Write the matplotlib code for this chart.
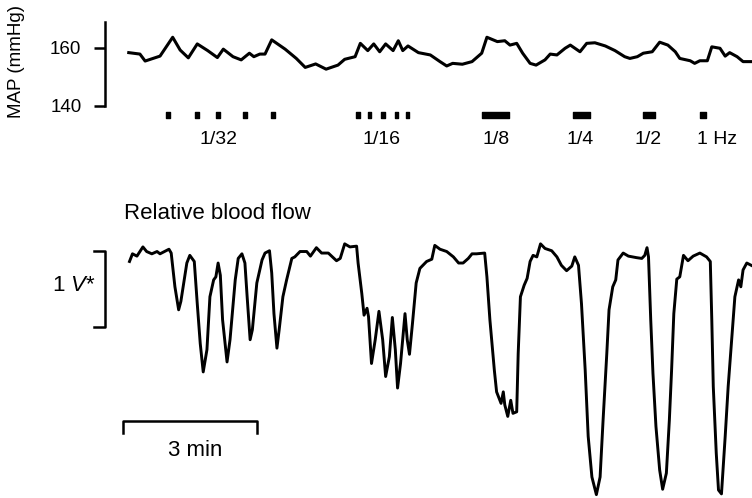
import matplotlib
matplotlib.use("Agg")
import matplotlib.pyplot as plt

plt.rcParams["font.family"] = ["Liberation Sans", "DejaVu Sans"]
plt.rcParams["mathtext.fontset"] = "custom"
plt.rcParams["mathtext.rm"] = "Liberation Sans"
plt.rcParams["mathtext.it"] = "Liberation Sans:italic"

# Mean arterial pressure, time in s
map_t = [1, 16, 23, 43, 60, 70, 81, 93, 107, 120, 128, 141, 152, 163, 169, 177, 184, 193, 211, 226,
         238, 252, 266, 282, 291, 305, 312, 322, 330, 338, 346, 356, 363, 369, 376, 390, 406, 419, 428, 436,
         449, 462, 475, 482, 496, 506, 513, 522, 530, 540, 548, 560, 567, 576, 587, 594, 607, 616, 627, 641,
         654, 667, 674, 684, 692, 704, 714, 725, 735, 741, 755, 761, 768, 778, 784, 795, 802, 808, 818, 826,
         838]
map_mmhg = [158.4, 157.9, 155.5, 157.2, 163.7, 159.3, 156.6, 161.4, 159.1, 156.7,
            159.6, 157.0, 155.9, 158.2, 157.0, 157.9, 157.9, 162.8, 159.6, 156.4,
            153.3, 154.5, 152.7, 154.1, 156.1, 157.0, 161.6, 159.1, 161.4, 158.7,
            161.4, 159.1, 162.5, 159.1, 160.7, 158.4, 157.6, 155.3, 153.8, 154.7,
            154.4, 155.3, 158.2, 163.7, 162.2, 162.5, 161.0, 161.6, 158.2, 154.7,
            154.1, 155.9, 157.9, 157.6, 159.9, 161.0, 158.7, 161.6, 161.8, 160.7,
            159.1, 157.0, 156.4, 157.0, 158.2, 158.7, 162.0, 161.0, 158.7, 156.4,
            155.6, 154.7, 155.6, 155.6, 160.4, 159.9, 157.2, 158.4, 157.0, 155.3,
            155.3]

# Relative blood flow (V), time in s
flow_t = [2, 6, 12, 20, 25, 32, 39, 43, 55, 58, 63, 68, 71, 79, 83, 89, 93, 97, 101, 106,
          110, 115, 118, 121, 124, 127, 133, 137, 144, 148, 153, 157, 160, 164, 167, 173, 180, 184, 190, 193,
          196, 200, 203, 208, 213, 220, 224, 231, 240, 245, 253, 260, 269, 280, 285, 291, 298, 307, 309, 314,
          317, 321, 323, 327, 332, 337, 342, 346, 351, 355, 359, 362, 366, 372, 375, 378, 382, 387, 392, 401,
          408, 412, 419, 428, 437, 444, 450, 457, 462, 468, 479, 482, 486, 492, 495, 501, 504, 506, 510, 514,
          517, 522, 524, 527, 532, 536, 540, 544, 549, 554, 560, 569, 576, 582, 589, 596, 600, 605, 609, 614,
          618, 623, 629, 634, 638, 643, 646, 651, 655, 658, 665, 672, 683, 690, 694, 697, 699, 702, 705, 709,
          714, 718, 723, 727, 730, 733, 737, 741, 746, 752, 759, 768, 777, 782, 784, 786, 790, 793, 797, 802,
          806, 811, 815, 820, 823, 826, 831, 837]
flow_v = [3.11, 3.21, 3.18, 3.30, 3.24, 3.21, 3.24, 3.21, 3.27, 3.22,
          2.78, 2.48, 2.59, 3.09, 3.19, 3.11, 2.56, 2.04, 1.67, 1.96,
          2.65, 2.87, 2.91, 3.09, 2.93, 2.35, 1.80, 2.09, 2.87, 3.15,
          3.21, 3.09, 2.65, 2.09, 2.22, 2.83, 3.13, 3.22, 3.25, 2.96,
          2.43, 1.98, 2.22, 2.65, 2.87, 3.15, 3.17, 3.24, 3.24, 3.18,
          3.29, 3.22, 3.22, 3.12, 3.15, 3.34, 3.30, 3.31, 3.09, 2.69,
          2.41, 2.50, 2.39, 1.78, 2.09, 2.46, 2.09, 1.61, 1.87, 2.38,
          1.96, 1.46, 1.78, 2.43, 2.09, 1.90, 2.30, 2.83, 3.02, 3.11,
          3.14, 3.32, 3.27, 3.24, 3.17, 3.09, 3.09, 3.15, 3.21, 3.21,
          3.22, 2.91, 2.35, 1.69, 1.41, 1.26, 1.41, 1.24, 1.09, 1.30,
          1.13, 1.15, 1.91, 2.65, 2.80, 2.89, 3.11, 3.19, 3.17, 3.34,
          3.28, 3.25, 3.17, 3.06, 2.99, 3.05, 3.17, 3.06, 2.56, 1.69,
          0.83, 0.30, 0.07, 0.30, 1.04, 1.91, 2.48, 2.78, 2.87, 3.13,
          3.22, 3.18, 3.16, 3.15, 3.19, 3.29, 3.17, 2.35, 1.65, 0.96,
          0.39, 0.14, 0.35, 1.04, 1.69, 2.43, 2.88, 2.91, 3.19, 3.12,
          3.18, 3.22, 3.17, 3.11, 2.35, 1.48, 0.61, 0.13, 0.08, 0.83,
          1.48, 2.13, 2.65, 2.87, 2.78, 3.00, 3.09, 3.06]

# Stimulation trains: frequency label, train start times (s), train duration (s)
stim_labels = ["1/32", "1/16", "1/8", "1/4", "1/2", "1 Hz"]
stim_starts = [[51, 90, 118, 154, 192], [306, 322, 340, 358, 373], [476], [598], [692], [768]]
stim_durations = [6, 5, 36, 22, 16, 8]
stim_label_t = [121, 340, 494, 607, 698, 791]

T_MIN, T_MAX = -30.9, 838.0
FONT = 16

fig = plt.figure(figsize=(7.52, 4.98), dpi=100)

# pressure panel
ax = fig.add_axes([105 / 752, 1 - 130 / 498, 647 / 752, 120 / 498])
ax.plot(map_t, map_mmhg, color="black", lw=2.2, solid_joinstyle="round")
for starts, dur in zip(stim_starts, stim_durations):
    ax.broken_barh([(s, dur) for s in starts], (136.0, 2.0), color="black")
for lab, t in zip(stim_labels, stim_label_t):
    ax.text(t, 128.3, lab, ha="center", va="center", fontsize=14)
ax.set_xlim(T_MIN, T_MAX)
ax.set_ylim(131.72, 173.1)
for s in ["top", "right", "bottom"]:
    ax.spines[s].set_visible(False)
ax.spines["left"].set_bounds(140, 169)
ax.spines["left"].set_linewidth(1.8)
ax.set_xticks([])
ax.set_yticks([140, 160])
ax.tick_params(axis="y", length=8, width=1.8, pad=9, labelsize=13.5)
ax.set_ylabel("MAP (mmHg)", fontsize=13.5)
ax.yaxis.set_label_coords(-0.124, 0.575)
ax.patch.set_alpha(0)

# blood flow panel
bx = fig.add_axes([105 / 752, 0, 647 / 752, 303 / 498])
bx.plot(flow_t, flow_v, color="black", lw=2.1, solid_joinstyle="round")
bx.set_xlim(T_MIN, T_MAX)
bx.set_ylim(0.026, 3.977)
bx.axis("off")
bx.text(-6, 3.73, "Relative blood flow", ha="left", va="center", fontsize=FONT)

# 1 V calibration bracket
v_lo, v_hi = 2.25, 3.25
bx.plot([-46, -31, -31, -46], [v_lo, v_lo, v_hi, v_hi], color="black", lw=1.8, clip_on=False)
bx.text(-44, (v_lo + v_hi) / 2 + 0.05, r"1 $\it{V}$*", ha="right", va="center", fontsize=FONT)

# 3 min time bar
t0, bar_s = -7, 180
bx.plot([t0, t0, t0 + bar_s, t0 + bar_s], [0.87, 1.03, 1.03, 0.87], color="black", lw=1.8)
bx.text(t0 + bar_s / 2 + 7, 0.65, "3 min", ha="center", va="center", fontsize=FONT)

fig.savefig("out.png", dpi=100)
